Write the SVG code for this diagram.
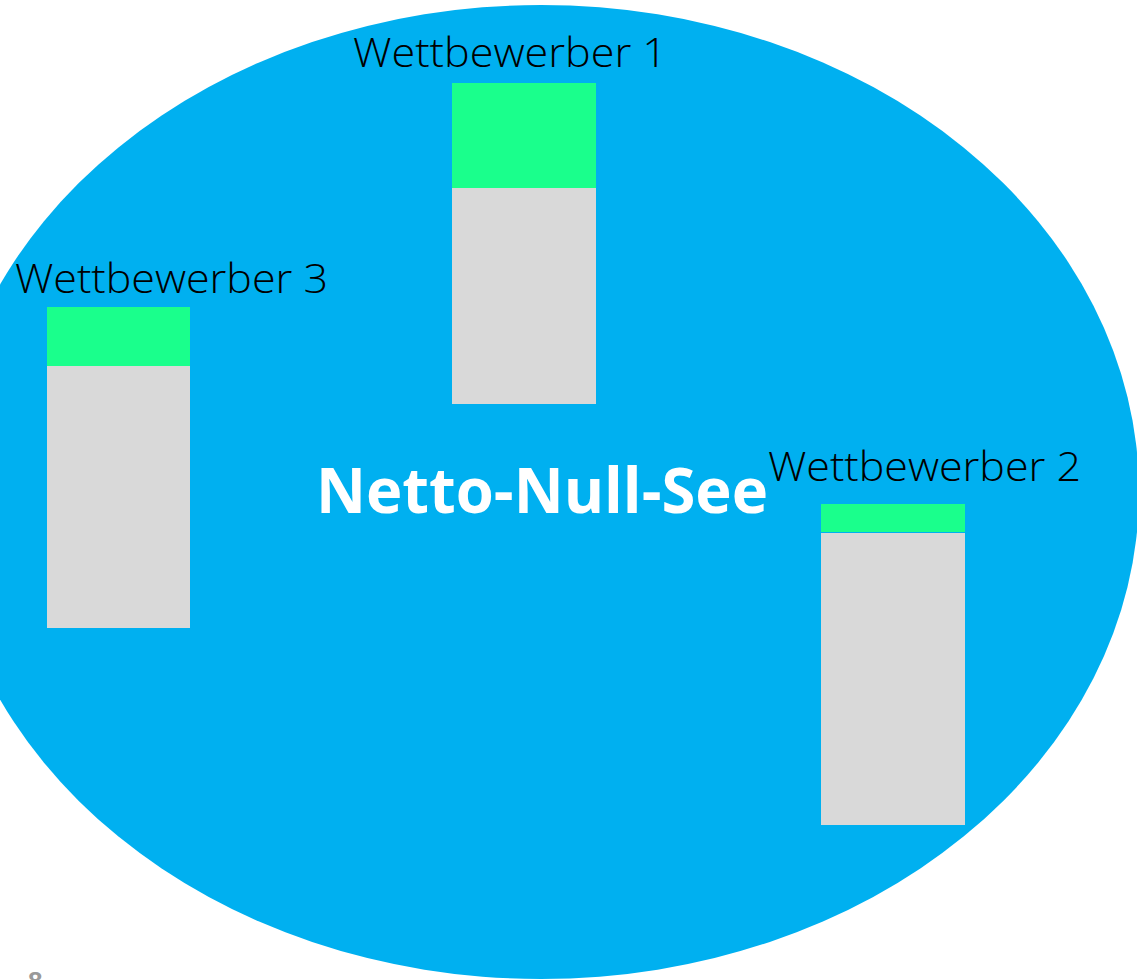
<svg xmlns="http://www.w3.org/2000/svg" width="1137" height="980" viewBox="0 0 1137 980">
<style>
.lbl{font-family:"Open Sans","Noto Sans","Liberation Sans",sans-serif;font-weight:300;font-size:40px;fill:#000}
.green{fill:#1AFF8C}
.gray{fill:#D9D9D9}
</style>
<rect width="1137" height="980" fill="#fff"/>
<g id="lake">
<ellipse cx="541" cy="492" rx="598" ry="487" fill="#00B0F0"/>
<text x="316" y="513" font-family="Open Sans,Noto Sans,Liberation Sans,sans-serif" font-weight="700" font-size="62" fill="#fff" textLength="452" lengthAdjust="spacingAndGlyphs">Netto-Null-See</text>
</g>
<g id="w1">
<rect class="green" x="452" y="83" width="144" height="105"/>
<rect class="gray" x="452" y="188" width="144" height="216"/>
<text class="lbl" x="353" y="67" textLength="314" lengthAdjust="spacingAndGlyphs">Wettbewerber 1</text>
</g>
<g id="w3">
<rect class="green" x="47" y="307" width="143" height="59"/>
<rect class="gray" x="47" y="366" width="143" height="262"/>
<text class="lbl" x="15" y="293" textLength="313" lengthAdjust="spacingAndGlyphs">Wettbewerber 3</text>
</g>
<g id="w2">
<rect class="green" x="821" y="504" width="144" height="28"/>
<rect class="gray" x="821" y="533" width="144" height="292"/>
<text class="lbl" x="768" y="481" textLength="313" lengthAdjust="spacingAndGlyphs">Wettbewerber 2</text>
</g>
<g id="connectors"></g>
<text x="28" y="990" font-family="Liberation Sans,sans-serif" font-weight="700" font-size="26" fill="#999">8</text>
</svg>
